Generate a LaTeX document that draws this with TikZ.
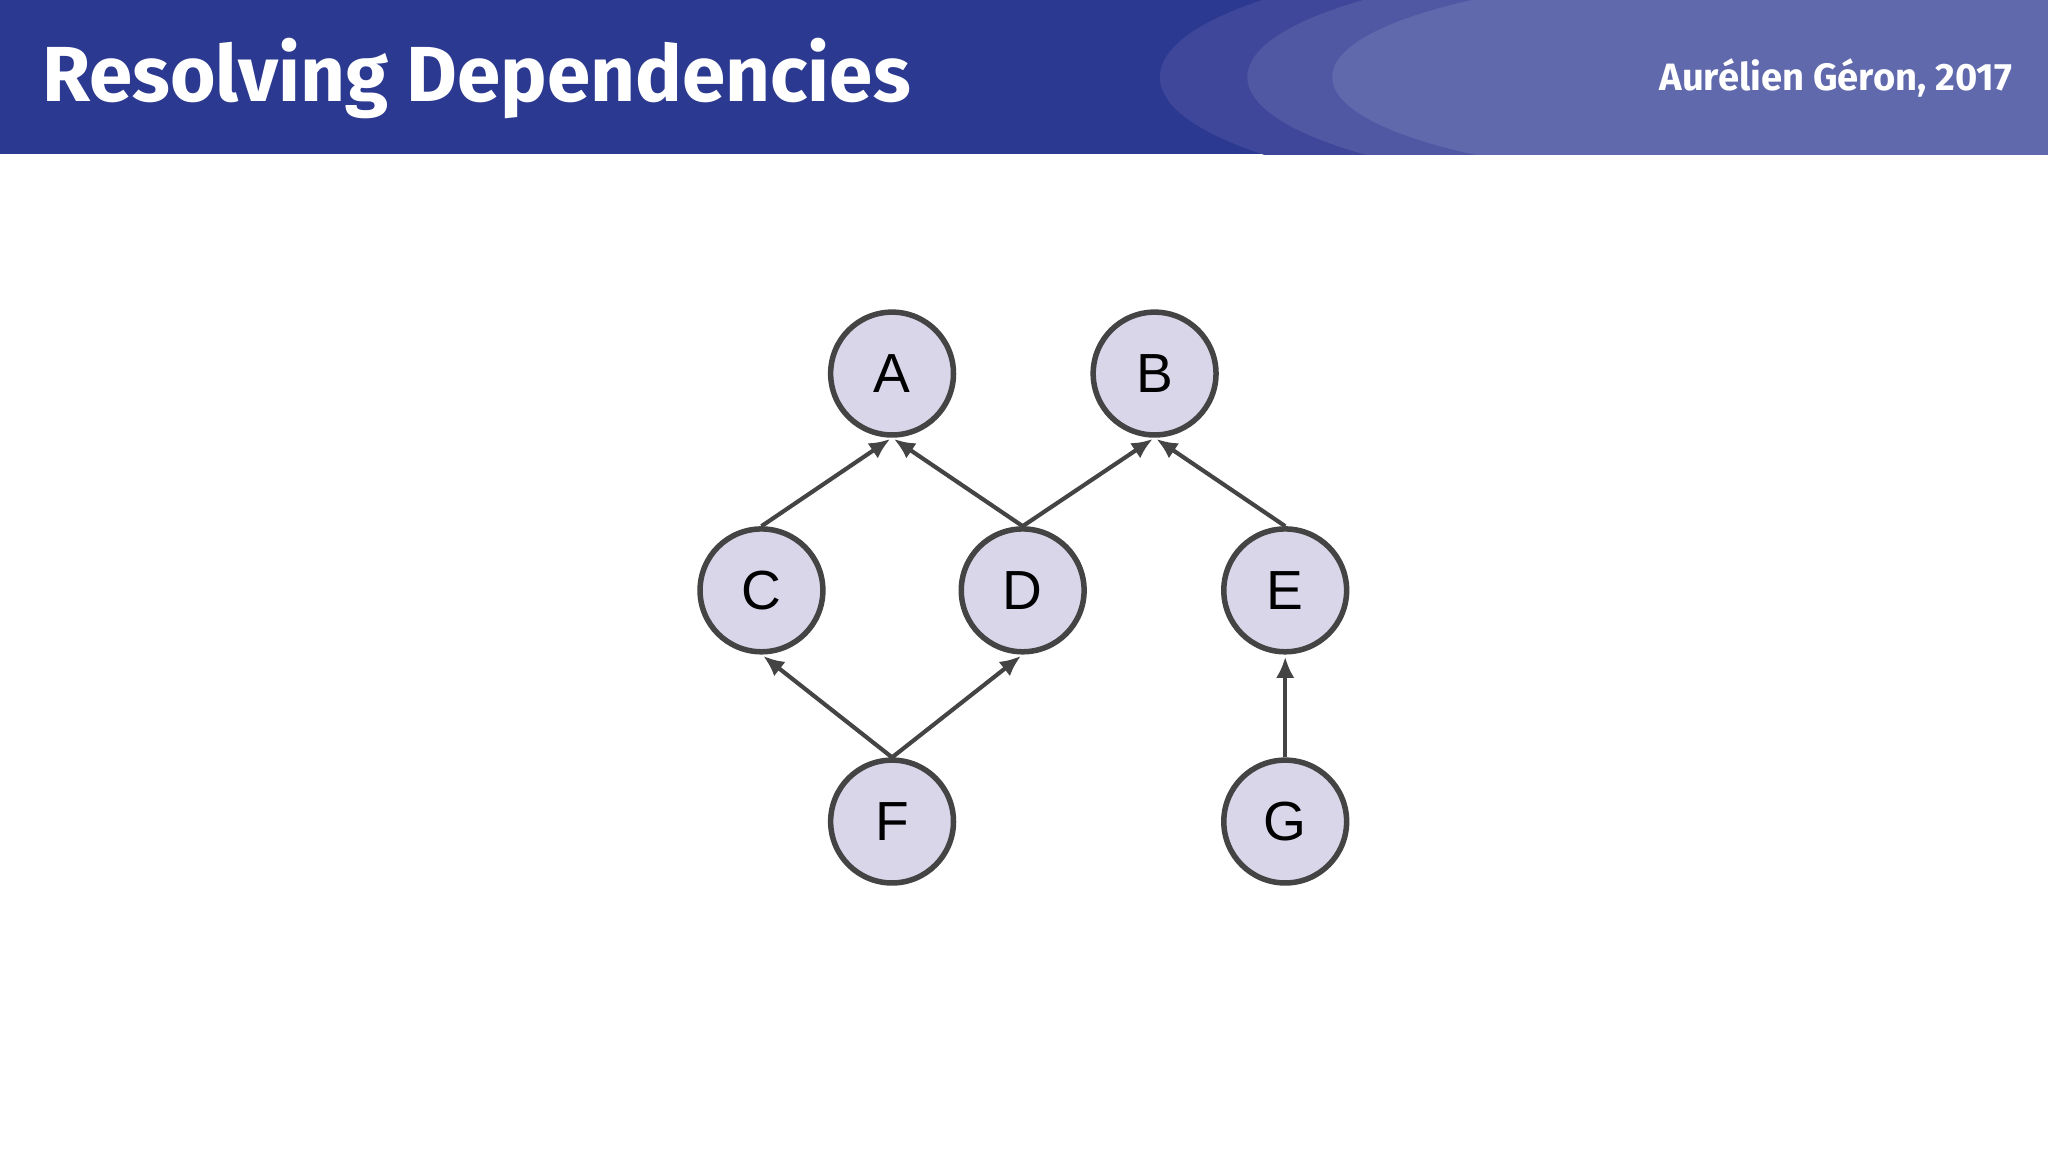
\documentclass[tikz,border=0pt]{standalone}
\usepackage{fontspec}
\setmainfont{Liberation Sans}
\newfontfamily\titlefont{Fira Sans}
\usetikzlibrary{arrows.meta}
\definecolor{hdr}{HTML}{2B3990}
\definecolor{e1}{HTML}{3E4799}
\definecolor{e2}{HTML}{5158A3}
\definecolor{e3}{HTML}{6169AD}
\definecolor{nfill}{HTML}{D9D6EA}
\definecolor{edge}{HTML}{444444}
\tikzset{
  vert/.style={circle,draw=edge,line width=1.2pt,fill=nfill,minimum size=0.94cm,inner sep=0pt,font=\fontsize{12}{12}\selectfont},
  dep/.style={draw=edge,line width=0.9pt,-{Latex[length=0.16cm,width=0.14cm]},shorten >=0.5pt}
}
\begin{document}
\begin{tikzpicture}[x=0.01cm,y=-0.01cm]
\useasboundingbox (0,0) rectangle (1568,882);
\fill[white] (0,0) rectangle (1568,882);
\begin{scope}
\clip (0,0) rectangle (1568,118);
\fill[hdr] (0,0) rectangle (1568,118);
\fill[e1] (1250,59) ellipse (362 and 95);
\fill[e2] (1300,59) ellipse (345 and 88);
\fill[e3] (1350,59) ellipse (330 and 80);
\fill[e3] (1350,-30) rectangle (1568,118);
\end{scope}
\node[anchor=west,text=white,font=\titlefont\bfseries\fontsize{17}{17}\selectfont] (title) at (20,60) {Resolving Dependencies};
\node[anchor=east,text=white,font=\titlefont\bfseries\fontsize{8.3}{9}\selectfont] (author) at (1553,60) {Aurélien Géron, 2017};
\node[vert] (A) at (683,286) {A};
\node[vert] (B) at (884,286) {B};
\node[vert] (C) at (583,452) {C};
\node[vert] (D) at (783,452) {D};
\node[vert] (E) at (984,452) {E};
\node[vert] (F) at (683,629) {F};
\node[vert] (G) at (984,629) {G};
\draw[dep] (C.north) -- (A.south);
\draw[dep] (D.north) -- (A.south);
\draw[dep] (D.north) -- (B.south);
\draw[dep] (E.north) -- (B.south);
\draw[dep] (F.north) -- (C.south);
\draw[dep] (F.north) -- (D.south);
\draw[dep] (G.north) -- (E.south);
\end{tikzpicture}
\end{document}
